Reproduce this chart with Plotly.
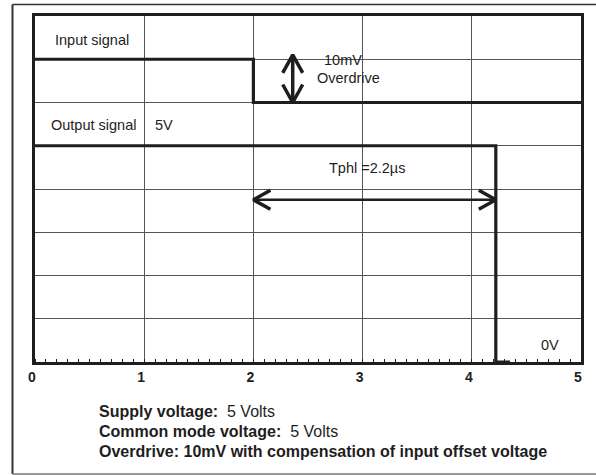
import plotly.graph_objects as go

# ---- data ----
x_ticks = [0, 1, 2, 3, 4, 5]
x_tick_labels = ["0", "1", "2", "3", "4", "5"]

input_x = [0, 2.0, 2.0, 5]
input_y = [7, 7, 6, 6]

output_x = [0, 4.22, 4.22, 4.35]
output_y = [5, 5, 0, 0]

tphl_start = 2.0
tphl_end = 4.22
tphl_level = 3.75

overdrive_x = 2.36
overdrive_top = 7.1
overdrive_bottom = 6.0

notes_bold = ["Supply voltage:", "Common mode voltage:", "Overdrive: 10mV with compensation of input offset voltage"]
notes_text = ["  5 Volts", "  5 Volts", ""]

# ---- layout geometry (px) ----
W, H = 596, 475
ML, MR, MT, MB = 35, 15, 16, 113
PW, PH = W - ML - MR, H - MT - MB
XR, YR = (0, 5), (0, 8)

def px_to_paper_x(px):
    return (px - ML) / PW

def px_to_paper_y(py):
    return (H - MB - py) / PH

ux = (XR[1] - XR[0]) / PW   # data units per px
uy = (YR[1] - YR[0]) / PH

INK = "#1e1e1e"
FONT = "Liberation Sans, Arial, sans-serif"

fig = go.Figure()

fig.add_trace(go.Scatter(x=input_x, y=input_y, mode="lines",
                         line=dict(color=INK, width=3.2), hoverinfo="skip"))
fig.add_trace(go.Scatter(x=output_x, y=output_y, mode="lines",
                         line=dict(color=INK, width=3.2), hoverinfo="skip"))

# horizontal double arrow (Tphl)
aw, ah = 17 * ux, 9.5 * uy
fig.add_trace(go.Scatter(x=[tphl_start, tphl_end], y=[tphl_level, tphl_level], mode="lines",
                         line=dict(color=INK, width=2.5), hoverinfo="skip"))
for tip, sgn in [(tphl_start, 1), (tphl_end, -1)]:
    fig.add_trace(go.Scatter(x=[tip + sgn * aw, tip, tip + sgn * aw],
                             y=[tphl_level + ah, tphl_level, tphl_level - ah],
                             mode="lines", line=dict(color=INK, width=3.5), hoverinfo="skip"))

# vertical double arrow (overdrive)
vw, vh = 10 * ux, 18 * uy
fig.add_trace(go.Scatter(x=[overdrive_x, overdrive_x], y=[overdrive_top, overdrive_bottom], mode="lines",
                         line=dict(color=INK, width=3.5), hoverinfo="skip"))
for tip, sgn in [(overdrive_top, -1), (overdrive_bottom, 1)]:
    fig.add_trace(go.Scatter(x=[overdrive_x - vw, overdrive_x, overdrive_x + vw],
                             y=[tip + sgn * vh, tip, tip + sgn * vh],
                             mode="lines", line=dict(color=INK, width=3.5), hoverinfo="skip"))

def label(text, x, y, size=14.5, bold=False, xanchor="center"):
    t = f"<b>{text}</b>" if bold else text
    fig.add_annotation(x=x, y=y, xref="x", yref="y", text=t, showarrow=False,
                       xanchor=xanchor, yanchor="middle",
                       font=dict(family=FONT, size=size, color=INK))

label("Input signal", 0.52, 7.45)
label("Output signal", 0.535, 5.48)
label("5V", 1.18, 5.48)
label("10mV", 2.825, 6.99)
label("Overdrive", 2.867, 6.57)
label("Tphl =2.2µs", 3.04, 4.49)
label("0V", 4.72, 0.39)

note_y_px = [411, 431, 451]
for b, t, py in zip(notes_bold, notes_text, note_y_px):
    fig.add_annotation(x=px_to_paper_x(97), y=px_to_paper_y(py), xref="paper", yref="paper",
                       text=f"<b>{b}</b>{t}", showarrow=False, xanchor="left", yanchor="middle",
                       font=dict(family=FONT, size=16, color=INK))

# outer frame
frame_col = "#333333"
fig.add_shape(type="line", xref="paper", yref="paper",
              x0=px_to_paper_x(12.5), x1=px_to_paper_x(12.5),
              y0=px_to_paper_y(4.5), y1=px_to_paper_y(474), line=dict(color=frame_col, width=2))
fig.add_shape(type="line", xref="paper", yref="paper",
              x0=px_to_paper_x(12.5), x1=px_to_paper_x(600),
              y0=px_to_paper_y(4.5), y1=px_to_paper_y(4.5), line=dict(color=frame_col, width=1.5))
fig.add_shape(type="line", xref="paper", yref="paper",
              x0=px_to_paper_x(12.5), x1=px_to_paper_x(600),
              y0=px_to_paper_y(474), y1=px_to_paper_y(474), line=dict(color="#777777", width=1.5))

fig.update_xaxes(range=list(XR), tickvals=x_ticks, ticktext=[f"<b>{t}</b>" for t in x_tick_labels],
                 showgrid=True, gridcolor="#555555", gridwidth=1,
                 showline=True, linecolor=INK, linewidth=3, mirror=True,
                 ticks="", zeroline=False, ticklabelshift=-3,
                 tickfont=dict(family=FONT, size=14, color=INK),
                 minor=dict(dtick=0.1, tick0=0, ticks="inside", ticklen=3, tickwidth=1,
                            tickcolor=INK, showgrid=False))
fig.update_yaxes(range=list(YR), dtick=1, tick0=0, showticklabels=False,
                 showgrid=True, gridcolor="#555555", gridwidth=1,
                 showline=True, linecolor=INK, linewidth=3, mirror=True,
                 ticks="", zeroline=False)

fig.update_layout(width=W, height=H, margin=dict(l=ML, r=MR, t=MT, b=MB),
                  showlegend=False, plot_bgcolor="white", paper_bgcolor="white")

fig.write_html("out.html", config={"displayModeBar": False},
               post_script="document.body.style.margin='0';")
